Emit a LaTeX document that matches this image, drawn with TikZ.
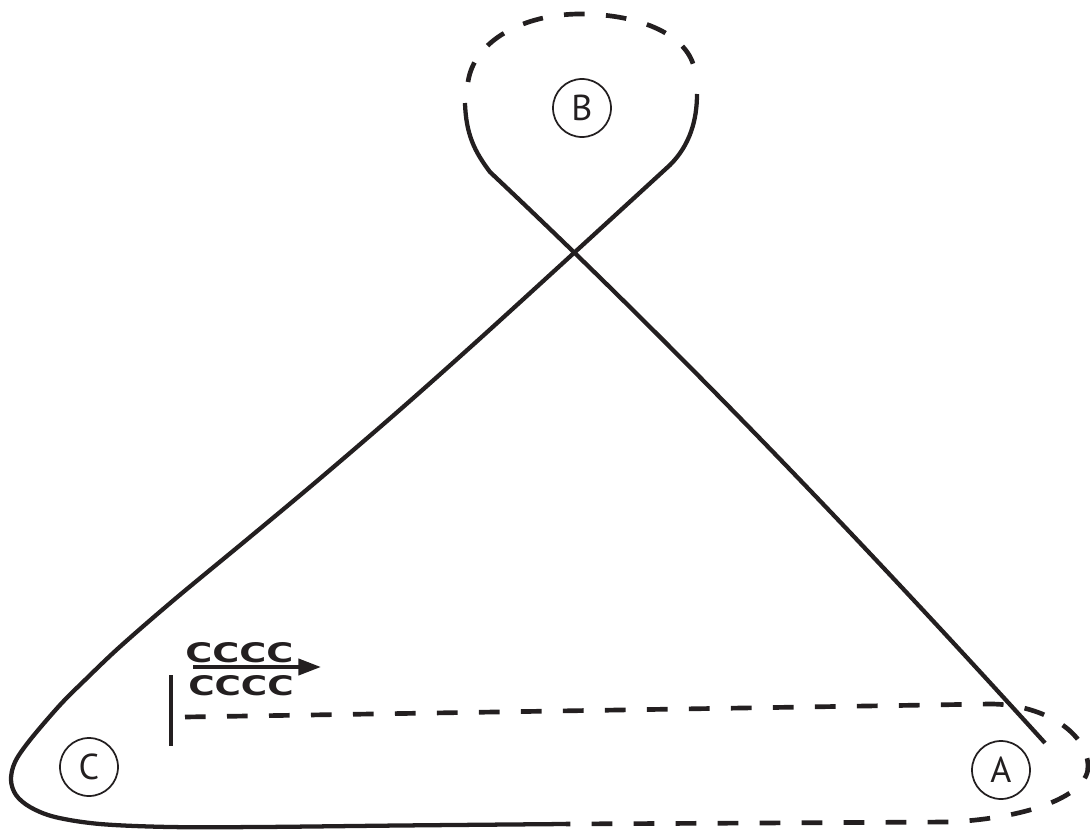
\documentclass[tikz,border=0pt]{standalone}
\usepackage{fontspec}
\usepackage{graphicx}
\usetikzlibrary{arrows.meta}
\newfontfamily\labfont{PT Sans}
\newfontfamily\cfont{DejaVu Sans}
\definecolor{ink}{RGB}{35,31,32}
\begin{document}
\begin{tikzpicture}[x=0.75pt,y=-0.75pt,
  solidline/.style={draw=ink, line width=3.2pt},
  dashline/.style={draw=ink, line width=3.5pt, dash pattern=on 15.5pt off 16pt},
  site/.style={circle, draw=ink, line width=1.3pt, minimum size=43.5pt, inner sep=0pt,
    font=\labfont\fontsize{27}{27}\selectfont, text=ink},
  cccc/.style={anchor=base west, inner sep=0pt, text=ink}]
\useasboundingbox (0,0) rectangle (1090,832);

% sites
\node[site] (A) at (1001,770) {A};
\node[site] (B) at (582,108) {B};
\node[site] (C) at (89,767) {C};

% key coordinates
\coordinate (bL) at (465,103);
\coordinate (kL) at (490,172);
\coordinate (endA) at (1045,743);
\coordinate (bR) at (697,94);
\coordinate (kR) at (670,165);
\coordinate (sEnd) at (566,824);
\coordinate (dStart) at (185,717);
\coordinate (dTop) at (468,82);
\coordinate (dTopEnd) at (695,72);
\coordinate (bar1) at (171,675);
\coordinate (bar2) at (171,746);
\coordinate (arS) at (193,667);
\coordinate (arE) at (321,667);

% B loop, dashed part
\draw[dashline] (dTop) .. controls (474,40) and (525,14) .. (580,14)
  .. controls (640,14) and (690,35) .. (dTopEnd);

% strand from B (left) down to A
\draw[solidline] (bL) .. controls (466,135) and (475,152) .. (kL)
  .. controls (675,346) and (860,539) .. (endA);

% strand from B (right) down to C and along the bottom
\draw[solidline] (bR) .. controls (697,120) and (690,145) .. (kR)
  -- plot[smooth, tension=0.55] coordinates {(670,165) (575,252) (480,338.5) (400,409.7)
   (320,478.5) (250,537) (175,599) (120,646.7) (85,680) (60,705) (30,740) (15,762) (11,780)
   (16,795) (30,807) (55,817) (100,824) (170,827) (260,827) (400,825.5) (566,824)};

% dashed loop round A
\draw[dashline] (dStart) -- (990,704) .. controls (1040,704) and (1086,730) .. (1088,765)
  .. controls (1090,795) and (1030,818) .. (950,822) -- (sEnd);

% bar
\draw[draw=ink, line width=3.5pt] (bar1) -- (bar2);

% CCCC with arrow
\node[cccc] (ctop) at (185,662) {\resizebox{81pt}{15pt}{\cfont\bfseries CCCC}};
\node[cccc] (cbot) at (188,695) {\resizebox{79pt}{15pt}{\cfont\bfseries CCCC}};
\draw[draw=ink, line width=3pt, -{Triangle[length=17pt,width=12pt]}] (arS) -- (arE);
\end{tikzpicture}
\end{document}
